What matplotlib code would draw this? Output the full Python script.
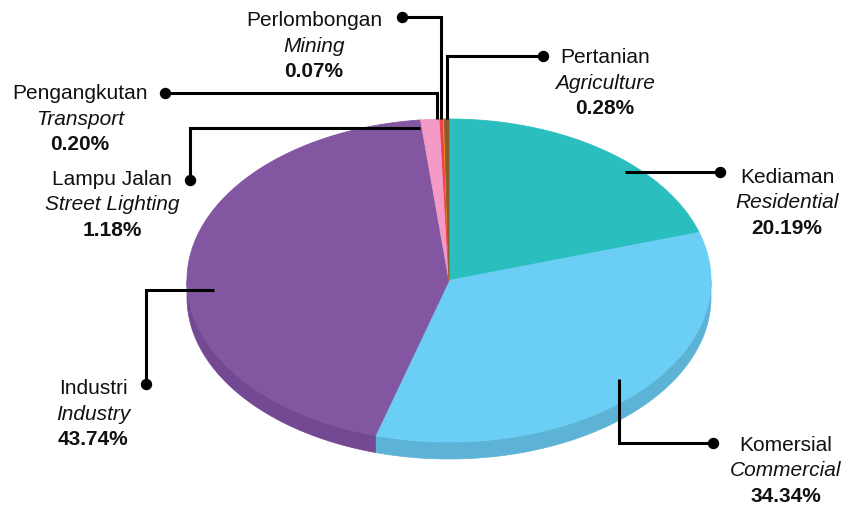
import numpy as np
import matplotlib.pyplot as plt

# ---------------- data ----------------
labels_ms = ["Kediaman", "Komersial", "Industri", "Lampu Jalan",
             "Pengangkutan", "Perlombongan", "Pertanian"]
labels_en = ["Residential", "Commercial", "Industry", "Street Lighting",
             "Transport", "Mining", "Agriculture"]
shares = [20.19, 34.34, 43.74, 1.18, 0.20, 0.07, 0.28]

top_colors = ["#2BBEBF", "#6BCEF5", "#8356A2", "#F39AC6", "#EE4146", "#F6921E", "#8B5A2C"]
side_colors = ["#24A3A4", "#5DB3D6", "#734993", "#D883AE", "#C8353A", "#D57D18", "#744A24"]

# ---------------- layout ----------------
W, H = 845, 509
fig = plt.figure(figsize=(W / 100, H / 100), dpi=100)
ax = fig.add_axes([0, 0, 1, 1])
ax.set_xlim(0, W)
ax.set_ylim(H, 0)
ax.axis("off")

cx, cy, rx, ry, depth = 449, 280.5, 262, 161.5, 17


def pt(theta_deg, f=1.0):
    t = np.radians(theta_deg)
    return cx + f * rx * np.sin(t), cy - f * ry * np.cos(t)


total = sum(shares)
bounds = np.concatenate([[0], np.cumsum(shares)]) / total * 360.0

# side (front) faces
for i in range(len(shares)):
    a, b = bounds[i], bounds[i + 1]
    lo, hi = max(a, 90), min(b, 270)
    if hi > lo:
        th = np.linspace(lo, hi, 300)
        x, y = pt(th)
        xs = np.concatenate([x, x[::-1]])
        ys = np.concatenate([y, y[::-1] + depth])
        ax.fill(xs, ys, fc=side_colors[i], ec=side_colors[i], lw=0.5, zorder=1)

# top faces
for i in range(len(shares)):
    a, b = bounds[i], bounds[i + 1]
    th = np.linspace(a, b, max(4, int((b - a) * 4)))
    x, y = pt(th)
    ax.fill(np.r_[cx, x], np.r_[cy, y], fc=top_colors[i], ec=top_colors[i],
            lw=0.6, zorder=2)

# ---------------- leaders & labels ----------------
# anchor: (angle clockwise from top, radius fraction)
anchors = [(45, 0.95), (133.2, 0.89), (266.4, 0.90), (353.3, 0.95),
           (357.4, 1.0), (358.25, 1.0), (359.6, 1.0)]
dots = [(720, 172), (713, 443), (146, 384), (190, 180),
        (165, 93), (402, 17), (543, 56)]
routes = ["hv", "hv", "vh", "vh", "hv", "hv", "hv"]
text_pos = [(787, 183), (786, 451), (93, 394), (112, 185),
            (80, 99), (314, 26), (605, 63)]
line_gap = 25.5
font = "Liberation Sans"
fs = 15

for i in range(len(shares)):
    axx, ayy = pt(anchors[i][0], anchors[i][1])
    dx, dy = dots[i]
    if routes[i] == "hv":
        px = [dx, axx, axx]
        py = [dy, dy, ayy]
    else:
        px = [dx, dx, axx]
        py = [dy, ayy, ayy]
    ax.plot(px, py, color="black", lw=2.2, solid_joinstyle="miter",
            solid_capstyle="butt", zorder=5)
    ax.plot([dx], [dy], "o", color="black", ms=7.2, zorder=6)

    tx, ty = text_pos[i]
    ax.text(tx, ty, labels_ms[i], ha="center", va="baseline",
            fontsize=fs, family=font, color="#111111")
    ax.text(tx, ty + line_gap, labels_en[i], ha="center", va="baseline",
            fontsize=fs, family=font, style="italic", color="#111111")
    ax.text(tx, ty + 2 * line_gap, f"{shares[i]:.2f}%", ha="center", va="baseline",
            fontsize=fs, family=font, weight="bold", color="#111111")

fig.savefig("out.png", dpi=100)
